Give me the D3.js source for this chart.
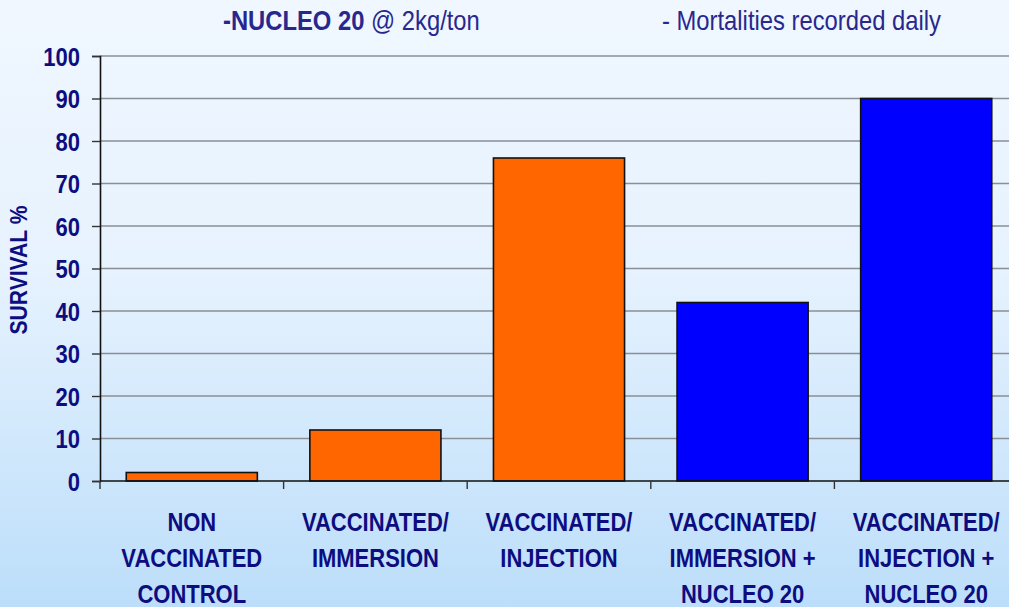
<!DOCTYPE html>
<html>
<head>
<meta charset="utf-8">
<script src="https://cdn.jsdelivr.net/npm/d3@7"></script>
<style>
  body { margin: 0; overflow: hidden; }
  svg { display: block; }
  .lbl { font-family: "Liberation Sans", Arial, sans-serif; font-weight: bold; fill: #0d0d80; }
  .title { font-family: "Liberation Sans", Arial, sans-serif; fill: #28288c; font-size: 28px; }
</style>
</head>
<body>
<div id="chart"></div>
<script>
var svgWidth = 1009;
var svgHeight = 607;

var margin = { top: 56, right: -9, bottom: 126, left: 100 };
var width = svgWidth - margin.left - margin.right;
var height = svgHeight - margin.top - margin.bottom;

// the original uses a narrow face; squeeze regular text to match
var squeeze = 0.88;

// chart data
var categories = [
  ["NON", "VACCINATED", "CONTROL"],
  ["VACCINATED/", "IMMERSION"],
  ["VACCINATED/", "INJECTION"],
  ["VACCINATED/", "IMMERSION +", "NUCLEO 20"],
  ["VACCINATED/", "INJECTION +", "NUCLEO 20"]
];
var survival = [2, 12, 76, 42, 90];
var barColors = ["#ff6600", "#ff6600", "#ff6600", "#0000ff", "#0000ff"];
var yTicks = [0, 10, 20, 30, 40, 50, 60, 70, 80, 90, 100];

var svg = d3.select("#chart")
  .append("svg")
  .attr("width", svgWidth)
  .attr("height", svgHeight);

// background gradient
var grad = svg.append("defs").append("linearGradient")
  .attr("id", "bg")
  .attr("x1", 0).attr("y1", 0).attr("x2", 0).attr("y2", 1);
grad.append("stop").attr("offset", "0%").attr("stop-color", "#f0f7ff");
grad.append("stop").attr("offset", "45%").attr("stop-color", "#e6f2fe");
grad.append("stop").attr("offset", "100%").attr("stop-color", "#bcdefa");

svg.append("rect")
  .attr("width", svgWidth)
  .attr("height", svgHeight)
  .attr("fill", "url(#bg)");

var chartGroup = svg.append("g")
  .attr("transform", `translate(${margin.left}, ${margin.top})`);

var keys = categories.map((d, i) => i);

var xBandScale = d3.scaleBand()
  .domain(keys)
  .range([0, width])
  .paddingInner(0.286)
  .paddingOuter(0.143);

var yLinearScale = d3.scaleLinear()
  .domain([0, 100])
  .range([height, 0]);

// gridlines
chartGroup.append("g")
  .selectAll("line")
  .data(yTicks.filter(d => d > 0))
  .enter()
  .append("line")
  .attr("x1", 0)
  .attr("x2", width)
  .attr("y1", d => yLinearScale(d))
  .attr("y2", d => yLinearScale(d))
  .attr("stroke", "#8a8f96")
  .attr("stroke-width", 1.6);

// bars
chartGroup.selectAll("rect.bar")
  .data(survival)
  .enter()
  .append("rect")
  .attr("class", "bar")
  .attr("x", (d, i) => xBandScale(i))
  .attr("y", d => yLinearScale(d))
  .attr("width", xBandScale.bandwidth())
  .attr("height", d => height - yLinearScale(d))
  .attr("fill", (d, i) => barColors[i])
  .attr("stroke", "#111")
  .attr("stroke-width", 1.6);

// y axis
var leftAxis = d3.axisLeft(yLinearScale)
  .tickValues(yTicks)
  .tickSize(8);

var yAxis = chartGroup.append("g")
  .call(leftAxis);
yAxis.select(".domain").attr("stroke", "#111").attr("stroke-width", 1.6);
yAxis.selectAll(".tick line").attr("stroke", "#333").attr("stroke-width", 1.4);
yAxis.selectAll(".tick text")
  .attr("class", "lbl")
  .attr("font-size", 25)
  .attr("x", -20 / squeeze)
  .attr("dy", "0.36em")
  .attr("transform", `scale(${squeeze},1)`);

// x axis line and boundary ticks
var xAxis = chartGroup.append("g")
  .attr("transform", `translate(0, ${height})`);
xAxis.append("line")
  .attr("x1", 0).attr("x2", width)
  .attr("stroke", "#111").attr("stroke-width", 1.6);
xAxis.selectAll("line.bt")
  .data(keys)
  .enter()
  .append("line")
  .attr("class", "bt")
  .attr("x1", d => xBandScale(d) - xBandScale.step() * 0.143)
  .attr("x2", d => xBandScale(d) - xBandScale.step() * 0.143)
  .attr("y1", 0).attr("y2", 8)
  .attr("stroke", "#333").attr("stroke-width", 1.4);

// category labels
var catLabels = xAxis.selectAll("text.cat")
  .data(categories)
  .enter()
  .append("text")
  .attr("class", "lbl cat")
  .attr("font-size", 25)
  .attr("text-anchor", "middle")
  .attr("transform", (d, i) => `translate(${xBandScale(i) + xBandScale.bandwidth() / 2}, 49.5) scale(${squeeze},1)`);

catLabels.selectAll("tspan")
  .data(d => d)
  .enter()
  .append("tspan")
  .attr("x", 0)
  .attr("y", (d, i) => i * 36.5)
  .text(d => d);

// y axis title
svg.append("text")
  .attr("class", "lbl")
  .attr("font-size", 24)
  .attr("text-anchor", "middle")
  .attr("transform", `translate(27, 270) rotate(-90) scale(${squeeze},1)`)
  .text("SURVIVAL %");

// header notes
var t1 = svg.append("text")
  .attr("class", "title")
  .attr("transform", "translate(223, 30) scale(0.85,1)");
t1.append("tspan").attr("font-weight", "bold").text("-NUCLEO 20");
t1.append("tspan").text(" @ 2kg/ton");

svg.append("text")
  .attr("class", "title")
  .attr("transform", "translate(662, 30) scale(0.85,1)")
  .text("- Mortalities recorded daily");
</script>
</body>
</html>
